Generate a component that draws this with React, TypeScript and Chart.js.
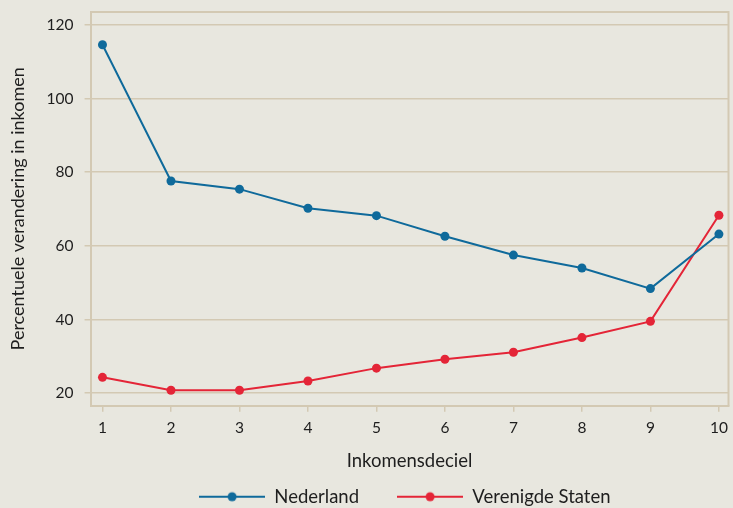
import React, { useEffect, useRef } from "react";
import { Chart, registerables } from "chart.js";

Chart.register(...registerables);

const deciles = [1, 2, 3, 4, 5, 6, 7, 8, 9, 10];
const nederland = [114.6, 77.6, 75.4, 70.2, 68.2, 62.6, 57.5, 54.0, 48.4, 63.2];
const verenigdeStaten = [24.3, 20.8, 20.8, 23.3, 26.8, 29.2, 31.1, 35.1, 39.5, 68.3];
const yTicks = [20, 40, 60, 80, 100, 120];
const seriesNames = ["Nederland", "Verenigde Staten"];
const xTitle = "Inkomensdeciel";
const yTitle = "Percentuele verandering in inkomen";

const BG = "#e8e7df";
const GRID = "#d3c9b3";
const BLUE = "#0f6a9b";
const RED = "#e42537";
const TEXT = "#1e1e1e";
const FONT = "Lato";

function legendImage(color: string) {
  const c = document.createElement("canvas");
  c.width = 66;
  c.height = 12;
  const ctx = c.getContext("2d")!;
  ctx.strokeStyle = color;
  ctx.lineWidth = 2;
  ctx.beginPath();
  ctx.moveTo(0, 6);
  ctx.lineTo(66, 6);
  ctx.stroke();
  ctx.fillStyle = color;
  ctx.beginPath();
  ctx.arc(33, 6, 4.5, 0, Math.PI * 2);
  ctx.fill();
  return c;
}

const frame = {
  id: "frame",
  afterDraw(chart: any) {
    const { ctx, chartArea } = chart;
    ctx.save();
    ctx.strokeStyle = GRID;
    ctx.lineWidth = 2;
    ctx.beginPath();
    ctx.moveTo(chartArea.left, chartArea.top);
    ctx.lineTo(chartArea.right, chartArea.top);
    ctx.lineTo(chartArea.right, chartArea.bottom);
    ctx.stroke();
    ctx.restore();
  },
};

export default function App() {
  const ref = useRef<HTMLCanvasElement>(null);
  useEffect(() => {
    const colors = [BLUE, RED];
    const series = [nederland, verenigdeStaten];
    const imgs = colors.map(legendImage);
    const chart = new Chart(ref.current!, {
      type: "line",
      data: {
        datasets: series.map((s, i) => ({
          label: seriesNames[i],
          data: s.map((v, j) => ({ x: deciles[j], y: v })),
          borderColor: colors[i],
          backgroundColor: colors[i],
          borderWidth: 2,
          pointRadius: 4.5,
          pointBorderWidth: 0,
          pointHoverRadius: 4.5,
          tension: 0,
        })),
      },
      options: {
        animation: false,
        responsive: false,
        maintainAspectRatio: false,
        layout: { padding: { top: 12, right: 1, left: 7, bottom: -8 } },
        plugins: {
          tooltip: { enabled: false },
          legend: {
            position: "bottom",
            fullSize: false,
            labels: {
              usePointStyle: true,
              pointStyleWidth: 66,
              boxHeight: 12,
              padding: 10,
              color: TEXT,
              font: { family: FONT, size: 18.5 },
              generateLabels: (chart: any) =>
                chart.data.datasets.map((d: any, i: number) => ({
                  text: i === 0 ? d.label + "\u2003   " : d.label + "  ",
                  pointStyle: imgs[i],
                  fillStyle: colors[i],
                  strokeStyle: colors[i],
                  lineWidth: 0,
                  hidden: false,
                  datasetIndex: i,
                  fontColor: TEXT,
                })),
            },
          },
        },
        scales: {
          x: {
            type: "linear",
            min: 0.826,
            max: 10.14,
            afterBuildTicks: (axis: any) => {
              axis.ticks = deciles.map((v) => ({ value: v }));
            },
            afterFit: (axis: any) => {
              axis.paddingLeft = 0;
              axis.paddingRight = 0;
            },
            grid: { drawOnChartArea: false, drawTicks: true, tickLength: 6, color: GRID, lineWidth: 1.5 },
            border: { color: GRID, width: 2 },
            ticks: { color: TEXT, font: { family: FONT, size: 15.5 }, padding: 7, maxRotation: 0, autoSkip: false },
            title: { display: true, text: xTitle, color: TEXT, font: { family: FONT, size: 18.5 }, padding: { top: 6, bottom: 5 } },
          },
          y: {
            min: 16.6,
            max: 123.5,
            afterBuildTicks: (axis: any) => {
              axis.ticks = yTicks.map((v) => ({ value: v }));
            },
            afterFit: (axis: any) => {
              axis.paddingTop = 0;
              axis.paddingBottom = 0;
            },
            grid: { color: GRID, lineWidth: 1.5, tickLength: 6 },
            border: { color: GRID, width: 2 },
            ticks: { color: TEXT, font: { family: FONT, size: 15.5 }, padding: 11 },
            title: { display: true, text: yTitle, color: TEXT, font: { family: FONT, size: 18 }, padding: { top: 0, bottom: 7 } },
          },
        },
      },
      plugins: [frame],
    });
    return () => chart.destroy();
  }, []);
  return (
    <div style={{ position: "fixed", left: 0, top: 0, width: 733, height: 508, background: BG }}>
      <canvas ref={ref} width={733} height={508} style={{ display: "block" }} />
    </div>
  );
}
